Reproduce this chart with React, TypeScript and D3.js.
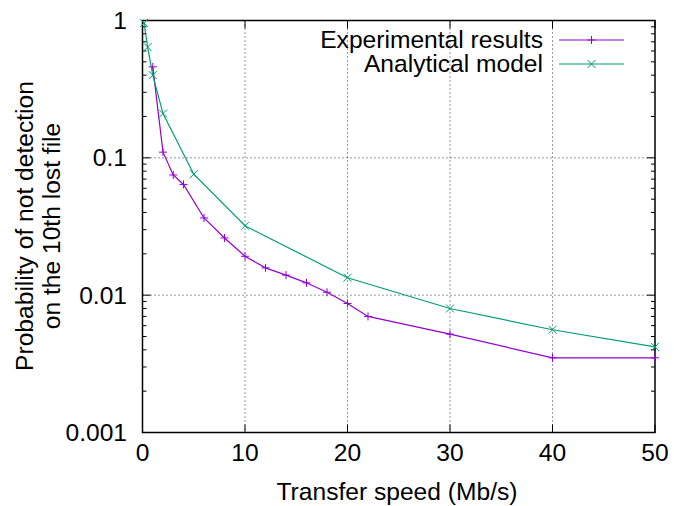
import React from "react";
import * as d3 from "d3";

const expX = [1, 2, 3, 4, 6, 8, 10, 12, 14, 16, 18, 20, 22, 30, 40, 50];
const expY = [0.46, 0.11, 0.075, 0.064, 0.0365, 0.0261, 0.0192, 0.0158, 0.014, 0.0123, 0.0105, 0.0087, 0.007, 0.0052, 0.0035, 0.0035];
const modX = [0.15, 0.5, 1, 2, 5, 10, 20, 30, 40, 50];
const modY = [0.96, 0.64, 0.4, 0.21, 0.076, 0.032, 0.0134, 0.008, 0.0056, 0.0042];
const xTicks = [0, 10, 20, 30, 40, 50];
const yTicks = [1, 0.1, 0.01, 0.001];
const yTickLabels = ["1", "0.1", "0.01", "0.001"];
const seriesNames = ["Experimental results", "Analytical model"];

const W = 674, H = 506;
const L = 142.5, R = 655, T = 20.5, B = 432.5;
const FONT = "'Liberation Sans', Arial, sans-serif";
const FS = 24.6;
const PURPLE = "#9400d3";
const GREEN = "#009e73";

export default function App() {
  const x = d3.scaleLinear().domain([0, 50]).range([L, R]);
  const y = d3.scaleLog().domain([0.001, 1]).range([B, T]);
  const line = d3.line<[number, number]>().x(d => x(d[0])).y(d => y(d[1]));
  const exp = expX.map((v, i) => [v, expY[i]] as [number, number]);
  const mod = modX.map((v, i) => [v, modY[i]] as [number, number]);
  const minor: number[] = [];
  for (let e = -3; e < 0; e++) for (let k = 2; k <= 9; k++) minor.push(k * Math.pow(10, e));
  const plus = (cx: number, cy: number, c: string, key: any) => (
    <path key={key} d={`M${cx - 4},${cy}H${cx + 4}M${cx},${cy - 4}V${cy + 4}`} stroke={c} strokeWidth={1} fill="none" />
  );
  const cross = (cx: number, cy: number, c: string, key: any) => (
    <path key={key} d={`M${cx - 4},${cy - 4}L${cx + 4},${cy + 4}M${cx - 4},${cy + 4}L${cx + 4},${cy - 4}`} stroke={c} strokeWidth={1} fill="none" />
  );
  return (
    <svg width={W} height={H} style={{ position: "absolute", left: 0, top: 0, background: "#fff" }} fontFamily={FONT}>
      <rect width={W} height={H} fill="#fff" />
      {/* grid */}
      {xTicks.slice(1, -1).map(t => (
        <line key={"gx" + t} x1={x(t)} x2={x(t)} y1={T} y2={B} stroke="#000" strokeWidth={1} strokeDasharray="1,3" opacity={0.8} />
      ))}
      {yTicks.slice(1, -1).map(t => (
        <line key={"gy" + t} x1={L} x2={R} y1={y(t)} y2={y(t)} stroke="#000" strokeWidth={1} strokeDasharray="1,3" opacity={0.8} />
      ))}
      {/* ticks */}
      {xTicks.map(t => (
        <g key={"tx" + t}>
          <line x1={x(t)} x2={x(t)} y1={B} y2={B - 8} stroke="#000" />
          <line x1={x(t)} x2={x(t)} y1={T} y2={T + 8} stroke="#000" />
          <text x={x(t)} y={461} textAnchor="middle" fontSize={FS}>{t}</text>
        </g>
      ))}
      {yTicks.map((t, i) => (
        <g key={"ty" + t}>
          <line x1={L} x2={L + 8} y1={y(t)} y2={y(t)} stroke="#000" />
          <line x1={R} x2={R - 8} y1={y(t)} y2={y(t)} stroke="#000" />
          <text x={127} y={y(t) + 8.5} textAnchor="end" fontSize={FS}>{yTickLabels[i]}</text>
        </g>
      ))}
      {minor.map((t, i) => (
        <g key={"mn" + i}>
          <line x1={L} x2={L + 4} y1={y(t)} y2={y(t)} stroke="#000" />
          <line x1={R} x2={R - 4} y1={y(t)} y2={y(t)} stroke="#000" />
        </g>
      ))}
      <rect x={L} y={T} width={R - L} height={B - T} fill="none" stroke="#000" strokeWidth={1.5} />
      {/* series */}
      <path d={line(exp) || ""} fill="none" stroke={PURPLE} strokeWidth={1.2} />
      {exp.map((d, i) => plus(x(d[0]), y(d[1]), PURPLE, "p" + i))}
      <path d={line(mod) || ""} fill="none" stroke={GREEN} strokeWidth={1.2} />
      {mod.map((d, i) => cross(x(d[0]), y(d[1]), GREEN, "c" + i))}
      {/* legend */}
      <text x={543} y={48.3} textAnchor="end" fontSize={FS}>{seriesNames[0]}</text>
      <line x1={559} x2={624} y1={40} y2={40} stroke={PURPLE} strokeWidth={1.2} />
      {plus(591.5, 40, PURPLE, "lp")}
      <text x={543} y={72} textAnchor="end" fontSize={FS}>{seriesNames[1]}</text>
      <line x1={559} x2={624} y1={64} y2={64} stroke={GREEN} strokeWidth={1.2} />
      {cross(591.5, 64, GREEN, "lc")}
      {/* axis labels */}
      <text x={397} y={500} textAnchor="middle" fontSize={FS}>Transfer speed (Mb/s)</text>
      <text transform="translate(33,226) rotate(-90)" textAnchor="middle" fontSize={FS}>Probability of not detection</text>
      <text transform="translate(59.5,226) rotate(-90)" textAnchor="middle" fontSize={FS}>on the 10th lost file</text>
    </svg>
  );
}
